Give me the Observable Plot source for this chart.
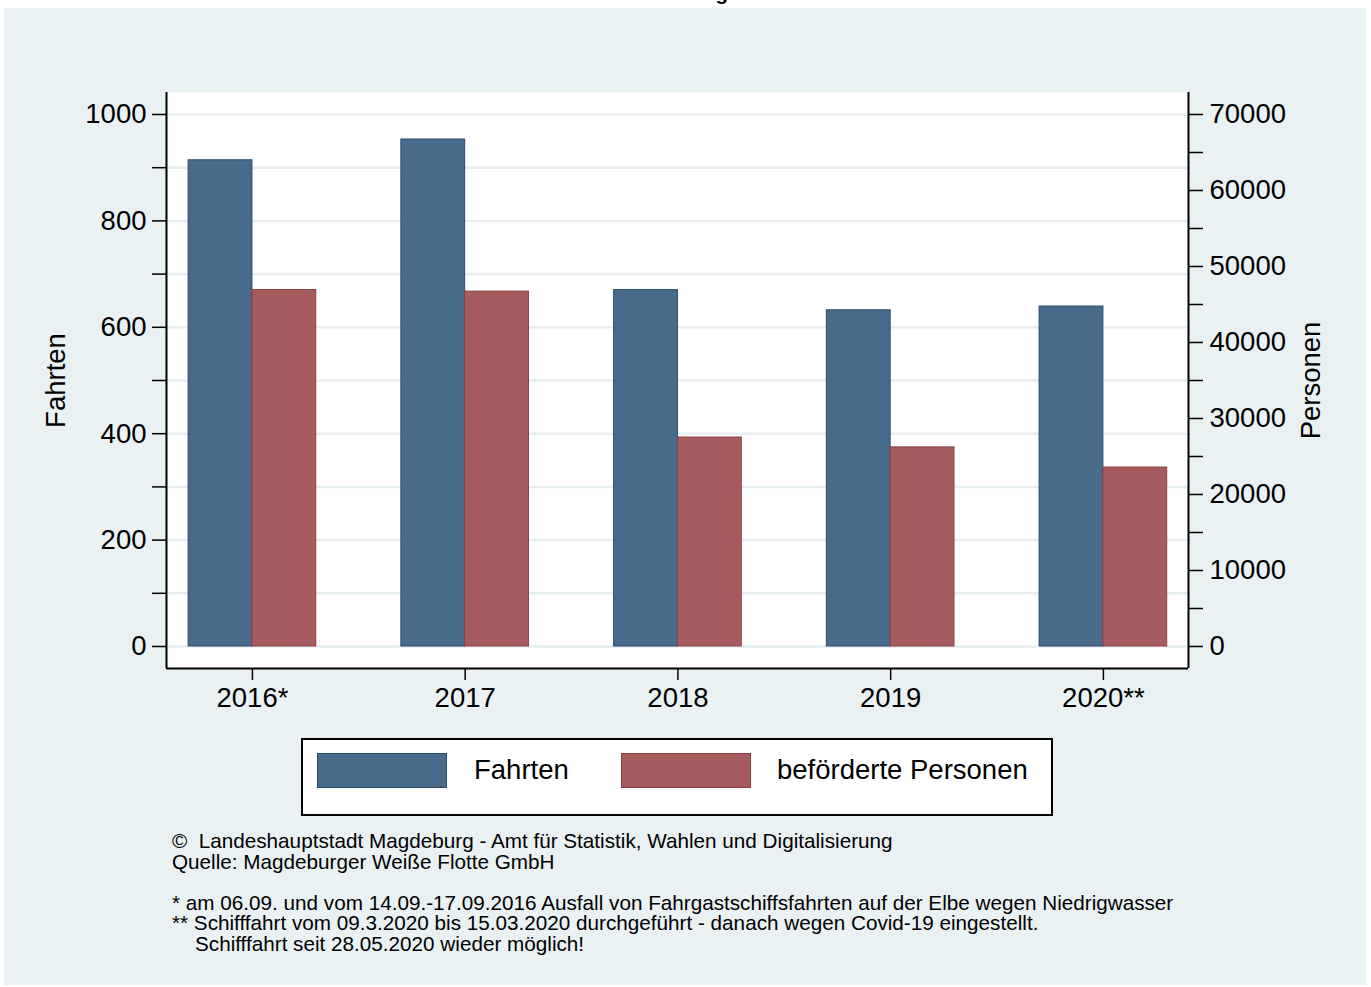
<!DOCTYPE html>
<html><head><meta charset="utf-8">
<script src="https://cdn.jsdelivr.net/npm/d3@7"></script>
<script src="https://cdn.jsdelivr.net/npm/@observablehq/plot@0.6"></script>
<style>
html,body{margin:0;padding:0;background:#fff;}
#page{position:relative;width:1371px;height:987px;overflow:hidden;background:#fff;font-family:"Liberation Sans",Arial,Helvetica,sans-serif;color:#000;}
#panel{position:absolute;left:4px;top:8px;width:1362px;height:977px;background:#e9f1f3;}
#titlewrap{position:absolute;left:0;top:0;width:1371px;height:8px;overflow:hidden;background:#fff;}
#title{position:absolute;left:0;width:1371px;top:-18px;text-align:center;font-weight:bold;font-size:20.5px;line-height:22px;padding-left:24px;box-sizing:border-box;}
#chart{position:absolute;left:4px;top:8px;}
#legend{position:absolute;left:301px;top:738px;width:748px;height:74px;background:#fff;border:2px solid #000;}
.sw{position:absolute;top:13px;width:128px;height:33px;border:1px solid;}
.lt{position:absolute;top:14px;font-size:27.5px;line-height:32px;}
#notes{position:absolute;left:172px;top:831px;font-size:20.7px;line-height:20.6px;white-space:pre;}
</style></head>
<body><div id="page">
<div id="panel"></div>
<div id="titlewrap"><div id="title">Weiße Flotte: Fahrgastschifffahrt</div></div>
<div id="chart"></div>
<div id="legend"></div>
<div id="notes"></div>
</div>
<script>
const years = ["2016*", "2017", "2018", "2019", "2020**"];
const fahrten = [914, 953, 670, 632, 639];
const personen = [46900, 46700, 27500, 26200, 23550];
const seriesNames = ["Fahrten", "beförderte Personen"];
const seriesFill = ["#486b8b", "#a65c5f"];
const seriesStroke = ["#2c4b6c", "#8e3e46"];
const leftTicks = [0, 200, 400, 600, 800, 1000];
const leftMinor = [100, 300, 500, 700, 900];
const gridValues = [0, 100, 200, 300, 400, 500, 600, 700, 800, 900, 1000];
const rightTicks = [0, 10000, 20000, 30000, 40000, 50000, 60000, 70000];
const rightMinor = [5000, 15000, 25000, 35000, 45000, 55000, 65000];
const personenPerFahrt = 70; // right axis: 70000 Personen aligned with 1000 Fahrten
const notes = [
  "©  Landeshauptstadt Magdeburg - Amt für Statistik, Wahlen und Digitalisierung",
  "Quelle: Magdeburger Weiße Flotte GmbH",
  "",
  "* am 06.09. und vom 14.09.-17.09.2016 Ausfall von Fahrgastschiffsfahrten auf der Elbe wegen Niedrigwasser",
  "** Schifffahrt vom 09.3.2020 bis 15.03.2020 durchgeführt - danach wegen Covid-19 eingestellt.",
  "    Schifffahrt seit 28.05.2020 wieder möglich!"
];

const data = years.map((label, i) => ({i, label, fahrten: fahrten[i], personen: personen[i]}));
const xDomain = [-0.404, 4.4];
const yDomain = [-41.35, 1041.35];
const halfBar = 0.3;
const fs = 27.5;

const chart = Plot.plot({
  width: 1362, height: 720,
  marginLeft: 162, marginRight: 178, marginTop: 84, marginBottom: 60,
  style: {background: "transparent", fontFamily: "'Liberation Sans', Arial, sans-serif", fontSize: fs + "px", color: "#000", overflow: "visible"},
  x: {domain: xDomain, axis: null},
  y: {domain: yDomain, axis: null},
  marks: [
    Plot.frame({fill: "white", stroke: "none"}),
    Plot.ruleY(gridValues, {stroke: "#e6eef1", strokeWidth: 2.5}),
    Plot.rect(data, {x1: d => d.i - halfBar, x2: d => d.i, y1: 0, y2: "fahrten", fill: seriesFill[0], stroke: seriesStroke[0], strokeWidth: 1}),
    Plot.rect(data, {x1: d => d.i, x2: d => d.i + halfBar, y1: 0, y2: d => d.personen / personenPerFahrt, fill: seriesFill[1], stroke: seriesStroke[1], strokeWidth: 1}),
    Plot.axisY({anchor: "left", ticks: leftTicks, tickFormat: d => String(d), tickSize: 14, tickPadding: 6, fontSize: fs, strokeWidth: 1.5, label: "Fahrten", labelArrow: "none", labelAnchor: "center", labelOffset: 121}),
    Plot.axisY({anchor: "left", ticks: leftMinor, tickSize: 14, tickFormat: () => "", strokeWidth: 1.5, label: null}),
    Plot.axisY({anchor: "right", ticks: rightTicks.map(v => v / personenPerFahrt), tickFormat: d => String(Math.round(d * personenPerFahrt)), tickSize: 14, tickPadding: 7, fontSize: fs, strokeWidth: 1.5, label: "Personen", labelArrow: "none", labelAnchor: "center", labelOffset: 131}),
    Plot.axisY({anchor: "right", ticks: rightMinor.map(v => v / personenPerFahrt), tickSize: 14, tickFormat: () => "", strokeWidth: 1.5, label: null}),
    Plot.axisX({ticks: [0, 1, 2, 3, 4], tickFormat: i => years[i], tickSize: 12, tickPadding: 7, fontSize: fs, strokeWidth: 1.5, label: null}),
    Plot.ruleX(xDomain, {stroke: "#000", strokeWidth: 2}),
    Plot.ruleY([yDomain[0]], {stroke: "#000", strokeWidth: 2})
  ]
});
document.getElementById("chart").appendChild(chart);

const legend = document.getElementById("legend");
const swLeft = [14, 318], txtLeft = [171, 474];
seriesNames.forEach((name, k) => {
  const sw = document.createElement("div");
  sw.className = "sw";
  sw.style.left = swLeft[k] + "px";
  sw.style.background = seriesFill[k];
  sw.style.borderColor = seriesStroke[k];
  legend.appendChild(sw);
  const t = document.createElement("div");
  t.className = "lt";
  t.style.left = txtLeft[k] + "px";
  t.textContent = name;
  legend.appendChild(t);
});
document.getElementById("notes").textContent = notes.join("\n");
</script>
</body></html>
